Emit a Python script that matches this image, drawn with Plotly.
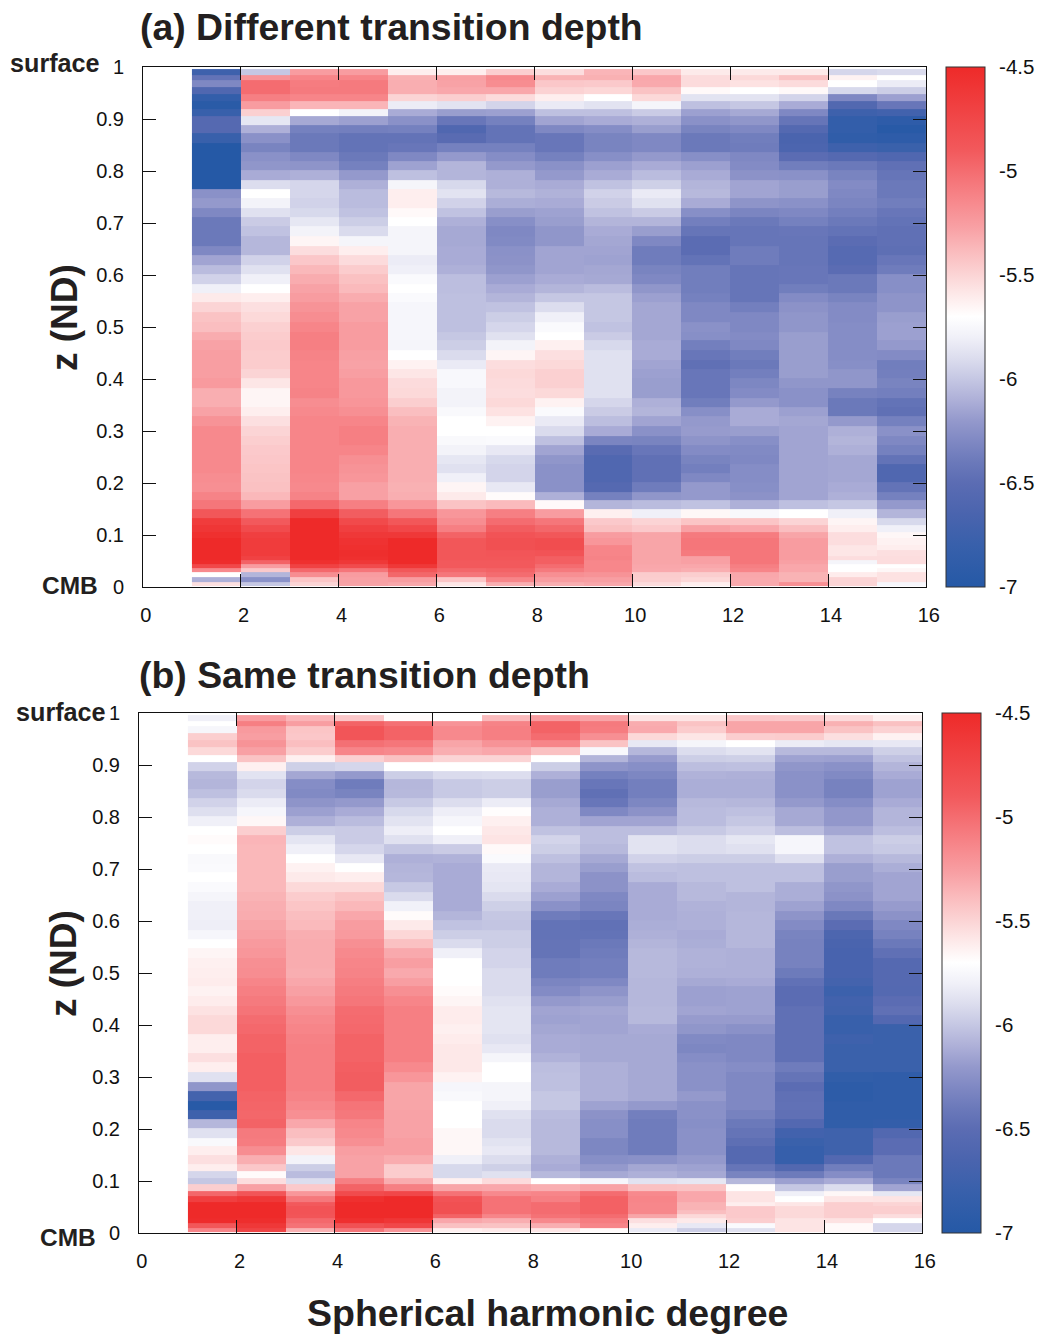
import numpy as np
import plotly.graph_objects as go

degree_edges = list(range(1, 17))
z_edges = [.996,.985,.974,.962,.948,.934,.919,.906,.889,.872,.854,.837,.820,.802,.783,.765,.747,.729,.712,.694,.675,.656,.638,.620,.602,.583,.565,.547,.529,.510,
           .491,.474,.456,.437,.419,.401,.382,.364,.346,.328,.309,.291,.273,.254,.237,.219,.201,.183,.167,.150,.133,.119,.106,.094,.081,.071,.060,.052,.045,.037,.028,.020,.010,.002]

# Panel (a): one list per degree, top row first
a1 = [-6.75,-6.45,-6.3,-6.6,-6.85,-6.95,-6.8,-6.55,-6.55,-6.8,-7,-7,-7,-7,-7,
      -6.25,-6.2,-6.3,-6.4,-6.4,-6.4,-6.3,-6.15,-6.05,-5.95,-5.8,-5.6,-5.5,-5.42,
      -5.4,-5.32,-5.28,-5.26,-5.26,-5.26,-5.24,-5.33,-5.33,-5.28,-5.2,-5.15,-5.15,-5.15,-5.15,-5.15,-5.17,-5.18,-5.12,-5.05,-4.88,
      -4.65,-4.6,-4.55,-4.5,-4.5,-4.5,-4.5,-4.52,-4.75,-5.15,-5.7,-6.1,-5.55]
a2 = [-6.0,-5.2,-5.0,-5.0,-5.1,-5.25,-5.48,-5.85,-6.1,-6.25,-6.33,-6.25,-6.22,-6.12,-5.9,
      -5.7,-5.78,-5.88,-5.98,-6.02,-6.07,-6.07,-5.95,-5.88,-5.8,-5.7,-5.62,-5.55,-5.52,
      -5.48,-5.46,-5.45,-5.46,-5.46,-5.5,-5.58,-5.65,-5.65,-5.62,-5.55,-5.5,-5.47,-5.45,-5.44,-5.43,-5.42,-5.41,-5.37,-5.25,-5.03,
      -4.9,-4.78,-4.68,-4.65,-4.65,-4.65,-4.7,-4.95,-5.25,-5.45,-6.08,-6.25,-6.0]
a3 = [-5.25,-5.13,-5.08,-5.07,-5.13,-5.36,-5.7,-6.13,-6.35,-6.4,-6.4,-6.3,-6.23,-6.1,-5.93,
      -5.93,-5.95,-5.92,-5.85,-5.78,-5.65,-5.54,-5.44,-5.37,-5.32,-5.28,-5.25,-5.2,-5.17,
      -5.13,-5.1,-5.1,-5.12,-5.13,-5.13,-5.13,-5.12,-5.17,-5.15,-5.13,-5.13,-5.13,-5.13,-5.13,-5.13,-5.14,-5.15,-5.12,-4.98,-4.68,
      -4.5,-4.5,-4.5,-4.5,-4.5,-4.5,-4.5,-4.55,-4.7,-4.98,-5.17,-5.43,-5.5]
a4 = [-5.25,-5.13,-5.07,-5.07,-5.13,-5.36,-5.78,-6.17,-6.36,-6.45,-6.45,-6.4,-6.35,-6.2,-6.1,
      -6.05,-6.05,-6.02,-5.97,-5.91,-5.77,-5.62,-5.53,-5.46,-5.41,-5.38,-5.32,-5.28,-5.28,
      -5.25,-5.25,-5.25,-5.27,-5.28,-5.26,-5.23,-5.23,-5.21,-5.18,-5.13,-5.1,-5.1,-5.13,-5.18,-5.2,-5.22,-5.27,-5.27,-5.1,-4.92,
      -4.77,-4.68,-4.62,-4.57,-4.55,-4.53,-4.55,-4.62,-4.78,-5.05,-5.25,-5.27,-5.28]
a5 = [-5.62,-5.34,-5.33,-5.33,-5.5,-5.82,-6.12,-6.25,-6.35,-6.45,-6.42,-6.3,-6.16,-6.03,-5.77,
      -5.62,-5.62,-5.67,-5.7,-5.77,-5.77,-5.77,-5.82,-5.8,-5.73,-5.7,-5.73,-5.76,-5.76,
      -5.76,-5.76,-5.77,-5.7,-5.64,-5.58,-5.53,-5.52,-5.47,-5.4,-5.35,-5.33,-5.33,-5.33,-5.33,-5.33,-5.33,-5.34,-5.33,-5.22,-5.05,
      -4.88,-4.75,-4.62,-4.5,-4.5,-4.5,-4.5,-4.5,-4.62,-4.88,-4.97,-5.25,-5.3]
a6 = [-5.62,-5.27,-5.28,-5.3,-5.47,-5.87,-6.18,-6.42,-6.6,-6.52,-6.35,-6.2,-6.08,-6.08,-5.92,
      -5.87,-5.95,-6.02,-6.1,-6.13,-6.13,-6.12,-6.12,-6.1,-6.04,-6.04,-6.03,-6.03,-6.03,
      -6.03,-6.0,-5.97,-5.91,-5.83,-5.75,-5.75,-5.78,-5.78,-5.74,-5.7,-5.7,-5.74,-5.78,-5.85,-5.88,-5.8,-5.65,-5.6,-5.42,-5.22,
      -5.17,-5.1,-4.95,-4.88,-4.88,-4.88,-4.88,-4.9,-4.9,-4.97,-5.05,-5.43,-5.58]
a7 = [-5.47,-5.15,-5.17,-5.3,-5.53,-5.94,-6.17,-6.35,-6.45,-6.45,-6.35,-6.27,-6.2,-6.1,-6.1,
      -6.06,-6.11,-6.18,-6.26,-6.3,-6.29,-6.25,-6.24,-6.22,-6.17,-6.12,-6.08,-6.02,-5.97,
      -5.93,-5.88,-5.78,-5.65,-5.54,-5.52,-5.53,-5.54,-5.52,-5.56,-5.64,-5.7,-5.73,-5.84,-5.92,-5.94,-5.94,-5.84,-5.68,-5.38,-5.1,
      -5.0,-4.92,-4.85,-4.82,-4.82,-4.87,-4.88,-4.9,-4.9,-4.95,-5.0,-5.13,-5.33]
a8 = [-5.54,-5.35,-5.44,-5.49,-5.62,-5.83,-6.03,-6.15,-6.3,-6.42,-6.42,-6.35,-6.25,-6.2,-6.12,
      -6.09,-6.12,-6.16,-6.18,-6.22,-6.22,-6.15,-6.15,-6.15,-6.12,-6.08,-6.0,-5.9,-5.8,
      -5.73,-5.7,-5.63,-5.55,-5.52,-5.48,-5.48,-5.52,-5.64,-5.73,-5.83,-5.91,-6.03,-6.15,-6.22,-6.25,-6.25,-6.25,-6.1,-5.67,-5.25,
      -5.05,-4.97,-4.88,-4.8,-4.8,-4.85,-4.93,-4.93,-5.0,-5.07,-5.18,-5.25,-5.33]
a9 = [-5.36,-5.34,-5.45,-5.51,-5.7,-5.87,-6.03,-6.12,-6.27,-6.33,-6.33,-6.26,-6.17,-6.12,-6.02,
      -5.95,-5.98,-6.02,-6.08,-6.12,-6.14,-6.15,-6.16,-6.14,-6.13,-6.05,-6.0,-6.0,-6.0,
      -6.02,-5.98,-5.92,-5.88,-5.88,-5.88,-5.88,-5.88,-5.93,-5.98,-6.04,-6.12,-6.32,-6.52,-6.6,-6.6,-6.6,-6.55,-6.35,-6.08,-5.63,
      -5.45,-5.41,-5.25,-5.22,-5.13,-5.13,-5.12,-5.14,-5.14,-5.14,-5.2,-5.26,-5.3]
a10 = [-5.44,-5.3,-5.31,-5.42,-5.52,-5.77,-5.98,-6.1,-6.18,-6.3,-6.3,-6.2,-6.12,-6.05,-5.96,
       -5.83,-5.88,-5.98,-6.08,-6.18,-6.3,-6.38,-6.38,-6.33,-6.3,-6.22,-6.17,-6.14,-6.14,
       -6.14,-6.14,-6.12,-6.12,-6.15,-6.17,-6.18,-6.18,-6.1,-6.08,-6.15,-6.25,-6.33,-6.42,-6.47,-6.47,-6.47,-6.38,-6.22,-6.05,-5.8,
       -5.5,-5.45,-5.29,-5.29,-5.29,-5.29,-5.29,-5.29,-5.3,-5.31,-5.46,-5.47,-5.53]
a11 = [-5.6,-5.53,-5.53,-5.67,-5.87,-6.03,-6.17,-6.25,-6.33,-6.4,-6.4,-6.26,-6.17,-6.12,-6.08,
       -6.06,-6.12,-6.26,-6.36,-6.43,-6.5,-6.5,-6.45,-6.37,-6.37,-6.37,-6.35,-6.3,-6.3,
       -6.25,-6.26,-6.36,-6.42,-6.47,-6.42,-6.42,-6.42,-6.37,-6.26,-6.2,-6.19,-6.23,-6.28,-6.33,-6.36,-6.3,-6.2,-6.2,-6.02,-5.66,
       -5.43,-5.27,-5.07,-5.05,-5.05,-5.07,-5.27,-5.27,-5.3,-5.33,-5.47,-5.51,-5.62]
a12 = [-5.6,-5.52,-5.56,-5.7,-5.87,-6.0,-6.13,-6.22,-6.3,-6.37,-6.38,-6.3,-6.28,-6.24,-6.15,
       -6.15,-6.23,-6.32,-6.4,-6.43,-6.43,-6.38,-6.38,-6.43,-6.43,-6.43,-6.43,-6.36,-6.3,
       -6.3,-6.28,-6.3,-6.37,-6.4,-6.36,-6.31,-6.28,-6.2,-6.12,-6.12,-6.18,-6.26,-6.29,-6.3,-6.27,-6.27,-6.26,-6.24,-6.1,-5.75,
       -5.43,-5.3,-5.08,-5.05,-5.05,-5.05,-5.05,-5.05,-5.1,-5.13,-5.3,-5.31,-5.31]
a13 = [-5.6,-5.42,-5.53,-5.67,-5.94,-6.12,-6.3,-6.43,-6.56,-6.65,-6.63,-6.5,-6.37,-6.25,-6.18,
       -6.18,-6.25,-6.3,-6.35,-6.42,-6.43,-6.43,-6.43,-6.42,-6.42,-6.37,-6.28,-6.24,-6.22,
       -6.22,-6.18,-6.18,-6.18,-6.18,-6.18,-6.22,-6.25,-6.25,-6.17,-6.14,-6.15,-6.15,-6.15,-6.15,-6.15,-6.15,-6.15,-6.15,-6.03,-5.7,
       -5.5,-5.4,-5.29,-5.25,-5.25,-5.25,-5.25,-5.27,-5.3,-5.3,-5.35,-5.35,-5.18]
a14 = [-5.93,-5.64,-5.7,-5.92,-6.3,-6.58,-6.75,-6.85,-6.85,-6.88,-6.75,-6.55,-6.4,-6.33,-6.28,
       -6.3,-6.32,-6.36,-6.4,-6.45,-6.5,-6.54,-6.54,-6.5,-6.4,-6.4,-6.33,-6.28,-6.28,
       -6.27,-6.27,-6.27,-6.27,-6.26,-6.22,-6.22,-6.34,-6.4,-6.4,-6.2,-6.1,-6.08,-6.1,-6.14,-6.14,-6.14,-6.12,-6.1,-6.0,-5.8,
       -5.65,-5.62,-5.54,-5.54,-5.58,-5.58,-5.54,-5.77,-5.7,-5.7,-5.61,-5.5,-5.5]
a15 = [-5.91,-5.7,-5.82,-5.97,-6.17,-6.42,-6.72,-6.9,-6.97,-6.9,-6.78,-6.6,-6.47,-6.43,-6.4,
       -6.4,-6.37,-6.42,-6.45,-6.47,-6.47,-6.48,-6.42,-6.38,-6.26,-6.26,-6.23,-6.23,-6.18,
       -6.17,-6.17,-6.2,-6.28,-6.37,-6.36,-6.33,-6.36,-6.45,-6.47,-6.35,-6.25,-6.3,-6.35,-6.45,-6.6,-6.6,-6.45,-6.35,-6.2,-6.08,
       -5.92,-5.8,-5.66,-5.64,-5.62,-5.55,-5.54,-5.54,-5.7,-5.66,-5.56,-5.56,-5.76]

# Panel (b)
b1 = [-5.8,-5.7,-5.76,-5.47,-5.42,-5.52,-5.7,-5.95,-6.06,-6.08,-6.03,-5.95,-5.89,-5.8,-5.7,
      -5.68,-5.7,-5.74,-5.73,-5.7,-5.73,-5.77,-5.8,-5.8,-5.81,-5.76,-5.7,-5.65,-5.63,
      -5.62,-5.61,-5.64,-5.61,-5.56,-5.52,-5.52,-5.62,-5.62,-5.55,-5.62,-5.88,-6.22,-6.7,-6.97,-6.75,-6.07,-5.88,-5.74,-5.62,-5.55,
      -5.62,-5.93,-6.0,-5.47,-4.97,-4.68,-4.5,-4.5,-4.5,-4.5,-4.52,-4.88,-5.13]
b2 = [-5.25,-5.1,-5.24,-5.26,-5.2,-5.27,-5.42,-5.63,-5.87,-5.94,-5.91,-5.82,-5.76,-5.66,-5.47,
      -5.36,-5.37,-5.37,-5.37,-5.37,-5.37,-5.35,-5.33,-5.32,-5.29,-5.27,-5.24,-5.22,-5.18,
      -5.17,-5.13,-5.1,-5.07,-5.04,-5.0,-4.98,-4.95,-4.95,-4.93,-4.93,-4.93,-4.93,-4.95,-4.96,-4.97,-4.95,-5.07,-5.08,-5.17,-5.33,
      -5.44,-5.68,-5.54,-5.27,-4.87,-4.62,-4.5,-4.5,-4.5,-4.5,-4.53,-4.62,-4.72]
b3 = [-5.36,-5.26,-5.43,-5.44,-5.4,-5.46,-5.63,-5.96,-6.14,-6.27,-6.29,-6.23,-6.17,-6.1,-5.97,
      -5.86,-5.8,-5.7,-5.64,-5.6,-5.52,-5.46,-5.43,-5.4,-5.38,-5.33,-5.32,-5.32,-5.32,
      -5.33,-5.3,-5.27,-5.23,-5.18,-5.15,-5.13,-5.11,-5.1,-5.1,-5.1,-5.1,-5.1,-5.12,-5.15,-5.18,-5.3,-5.4,-5.45,-5.58,-5.78,
      -5.97,-6.05,-5.9,-5.45,-5.22,-5.06,-4.9,-4.85,-4.85,-4.87,-4.98,-5.03,-5.34]
b4 = [-5.44,-4.95,-4.87,-4.87,-5.02,-5.13,-5.48,-5.93,-6.2,-6.38,-6.33,-6.2,-6.12,-6.05,-5.98,
      -5.98,-5.93,-5.84,-5.7,-5.62,-5.52,-5.42,-5.37,-5.3,-5.25,-5.24,-5.18,-5.15,-5.13,
      -5.12,-5.09,-5.07,-5.05,-5.0,-4.99,-4.98,-4.95,-4.95,-4.95,-4.93,-4.92,-4.92,-4.98,-5.04,-5.06,-5.13,-5.15,-5.18,-5.26,-5.28,
      -5.28,-5.28,-5.1,-4.95,-4.78,-4.55,-4.5,-4.5,-4.5,-4.5,-4.55,-4.83,-5.05]
b5 = [-5.68,-5.02,-4.95,-4.95,-5.05,-5.15,-5.41,-5.7,-5.97,-6.07,-6.06,-5.99,-5.92,-5.87,-5.81,
      -5.88,-6.01,-6.1,-6.08,-6.07,-5.99,-5.91,-5.79,-5.68,-5.6,-5.51,-5.41,-5.31,-5.26,
      -5.31,-5.26,-5.18,-5.13,-5.1,-5.1,-5.1,-5.1,-5.1,-5.1,-5.15,-5.22,-5.29,-5.29,-5.29,-5.28,-5.28,-5.28,-5.26,-5.26,-5.32,
      -5.46,-5.46,-5.32,-5.1,-4.75,-4.5,-4.5,-4.5,-4.5,-4.5,-4.6,-4.75,-5.22]
b6 = [-5.7,-5.2,-5.15,-5.15,-5.29,-5.33,-5.5,-5.7,-5.91,-5.99,-5.99,-5.9,-5.81,-5.76,-5.7,
      -5.8,-5.98,-6.09,-6.12,-6.12,-6.12,-6.12,-6.12,-6.08,-6.02,-5.97,-5.91,-5.8,-5.7,
      -5.7,-5.7,-5.68,-5.65,-5.61,-5.61,-5.63,-5.61,-5.59,-5.59,-5.59,-5.64,-5.76,-5.74,-5.7,-5.7,-5.7,-5.66,-5.66,-5.66,-5.8,
      -5.92,-5.92,-5.63,-5.29,-5.03,-4.85,-4.82,-4.82,-4.82,-4.95,-5.3,-5.41,-5.63]
b7 = [-5.38,-5.12,-5.1,-5.1,-5.2,-5.3,-5.5,-5.7,-5.9,-5.97,-5.97,-5.82,-5.69,-5.63,-5.59,
      -5.57,-5.67,-5.73,-5.83,-5.84,-5.86,-5.91,-5.96,-6.0,-6.01,-5.97,-5.97,-5.94,-5.94,
      -5.91,-5.91,-5.91,-5.88,-5.86,-5.86,-5.86,-5.88,-5.84,-5.77,-5.7,-5.7,-5.77,-5.77,-5.8,-5.88,-5.91,-5.91,-5.87,-5.84,-5.9,
      -5.96,-5.88,-5.53,-5.3,-5.15,-5.03,-5.03,-5.03,-5.03,-5.13,-5.33,-5.42,-5.6]
b8 = [-5.25,-4.95,-4.95,-5.0,-5.13,-5.41,-5.7,-5.97,-6.1,-6.18,-6.18,-6.13,-6.1,-6.1,-6.02,
      -5.94,-5.97,-6.03,-6.08,-6.08,-6.12,-6.17,-6.25,-6.38,-6.45,-6.45,-6.44,-6.44,-6.38,
      -6.38,-6.32,-6.28,-6.2,-6.15,-6.16,-6.14,-6.12,-6.12,-6.09,-6.04,-6.03,-6.03,-6.0,-6.0,-6.05,-6.06,-6.06,-6.06,-6.06,-6.1,
      -6.12,-6.06,-5.7,-5.33,-5.13,-5.1,-5.0,-5.0,-5.0,-5.03,-5.15,-5.33,-5.58]
b9 = [-5.29,-5.07,-5.08,-5.18,-5.42,-5.75,-6.08,-6.23,-6.35,-6.42,-6.47,-6.42,-6.3,-6.15,-6.04,
      -6.04,-6.06,-6.13,-6.18,-6.24,-6.24,-6.3,-6.32,-6.42,-6.46,-6.45,-6.4,-6.38,-6.36,
      -6.36,-6.3,-6.23,-6.18,-6.14,-6.15,-6.15,-6.13,-6.13,-6.13,-6.1,-6.1,-6.1,-6.1,-6.16,-6.24,-6.26,-6.26,-6.31,-6.31,-6.26,
      -6.2,-6.13,-5.76,-5.28,-5.0,-4.94,-4.94,-4.94,-4.94,-5.0,-5.08,-5.13,-5.68]
b10 = [-5.58,-5.32,-5.31,-5.52,-5.84,-6.07,-6.19,-6.26,-6.31,-6.36,-6.36,-6.31,-6.24,-6.15,-6.04,
       -5.87,-5.87,-5.95,-6.02,-6.05,-6.12,-6.12,-6.12,-6.12,-6.11,-6.1,-6.08,-6.06,-6.06,
       -6.06,-6.07,-6.07,-6.07,-6.06,-6.06,-6.12,-6.13,-6.13,-6.13,-6.13,-6.13,-6.13,-6.13,-6.2,-6.36,-6.38,-6.38,-6.38,-6.38,-6.25,
       -6.14,-6.1,-5.87,-5.41,-5.15,-5.13,-5.14,-5.14,-5.14,-5.29,-5.55,-5.62,-5.83]
b11 = [-5.58,-5.42,-5.46,-5.58,-5.77,-5.9,-5.97,-6.04,-6.09,-6.11,-6.11,-6.06,-6.05,-6.05,-5.99,
       -5.9,-5.9,-5.97,-6.03,-6.03,-6.06,-6.06,-6.09,-6.1,-6.1,-6.12,-6.11,-6.09,-6.09,
       -6.1,-6.13,-6.17,-6.17,-6.15,-6.19,-6.22,-6.29,-6.31,-6.27,-6.25,-6.25,-6.25,-6.2,-6.25,-6.25,-6.26,-6.25,-6.25,-6.25,-6.2,
       -6.16,-6.13,-5.85,-5.42,-5.3,-5.3,-5.35,-5.35,-5.4,-5.52,-5.6,-5.84,-5.97]
b12 = [-5.44,-5.29,-5.29,-5.47,-5.7,-5.87,-5.96,-6.03,-6.1,-6.11,-6.11,-6.07,-6.03,-6.0,-5.95,
       -5.85,-5.88,-5.97,-6.03,-6.03,-6.03,-6.08,-6.08,-6.07,-6.07,-6.07,-6.07,-6.1,-6.1,
       -6.1,-6.12,-6.16,-6.16,-6.16,-6.19,-6.25,-6.3,-6.3,-6.3,-6.27,-6.3,-6.3,-6.3,-6.3,-6.34,-6.4,-6.44,-6.48,-6.55,-6.55,
       -6.43,-6.33,-6.07,-5.69,-5.57,-5.57,-5.62,-5.45,-5.45,-5.45,-5.47,-5.73,-5.88]
b13 = [-5.45,-5.29,-5.29,-5.46,-5.82,-6.06,-6.16,-6.22,-6.25,-6.25,-6.25,-6.2,-6.13,-6.13,-6.04,
       -5.76,-5.76,-5.89,-6.03,-6.03,-6.11,-6.11,-6.16,-6.23,-6.28,-6.33,-6.34,-6.34,-6.34,
       -6.39,-6.46,-6.5,-6.5,-6.47,-6.47,-6.47,-6.47,-6.47,-6.47,-6.38,-6.44,-6.5,-6.47,-6.46,-6.47,-6.57,-6.72,-6.78,-6.82,-6.82,
       -6.58,-6.39,-6.17,-6.0,-5.8,-5.7,-5.58,-5.52,-5.52,-5.52,-5.57,-5.57,-5.57]
b14 = [-5.53,-5.34,-5.42,-5.55,-5.85,-6.06,-6.17,-6.25,-6.29,-6.34,-6.34,-6.27,-6.21,-6.21,-6.14,
       -6.02,-6.02,-6.1,-6.18,-6.18,-6.22,-6.24,-6.3,-6.41,-6.5,-6.62,-6.65,-6.67,-6.67,
       -6.67,-6.7,-6.77,-6.72,-6.73,-6.8,-6.8,-6.75,-6.78,-6.78,-6.78,-6.87,-6.92,-6.92,-6.88,-6.88,-6.87,-6.74,-6.74,-6.74,-6.57,
       -6.37,-6.27,-6.12,-5.9,-5.66,-5.58,-5.47,-5.47,-5.47,-5.47,-5.56,-5.67,-5.67]
b15 = [-5.63,-5.41,-5.49,-5.64,-5.84,-5.96,-6.02,-6.08,-6.12,-6.16,-6.16,-6.12,-6.08,-6.08,-6.04,
       -5.97,-5.99,-6.06,-6.11,-6.15,-6.15,-6.15,-6.19,-6.24,-6.3,-6.34,-6.4,-6.47,-6.55,
       -6.55,-6.55,-6.56,-6.5,-6.47,-6.57,-6.78,-6.78,-6.78,-6.78,-6.78,-6.88,-6.88,-6.88,-6.88,-6.88,-6.85,-6.58,-6.5,-6.5,-6.4,
       -6.4,-6.4,-6.33,-6.15,-5.85,-5.57,-5.5,-5.47,-5.47,-5.54,-5.7,-5.93,-5.93]

panel_a = [a1, a2, a3, a4, a5, a6, a7, a8, a9, a10, a11, a12, a13, a14, a15]
panel_b = [b1, b2, b3, b4, b5, b6, b7, b8, b9, b10, b11, b12, b13, b14, b15]

x_ticks = list(range(0, 17, 2))
y_ticks = [0, 0.1, 0.2, 0.3, 0.4, 0.5, 0.6, 0.7, 0.8, 0.9, 1]
y_labels = ["0", "0.1", "0.2", "0.3", "0.4", "0.5", "0.6", "0.7", "0.8", "0.9", "1"]
cb_ticks = [-4.5, -5, -5.5, -6, -6.5, -7]
cb_labels = ["-4.5", "-5", "-5.5", "-6", "-6.5", "-7"]

W, H = 1042, 1334
FONT = "Liberation Sans"
INK = "#231f20"
colorscale = [[0, "#2559A6"], [.08, "#3860AB"], [.14, "#4A64AE"], [.2, "#5B6CB3"], [.24, "#6B79BA"], [.28, "#7F88C3"],
              [.32, "#9499CC"], [.36, "#AEB0D8"], [.40, "#C5C7E3"], [.44, "#DCDDEE"], [.48, "#F0F0F8"], [.52, "#FFFFFF"],
              [.568, "#FDE6E6"], [.608, "#FBD0D1"], [.648, "#FABABC"], [.692, "#F8A0A4"], [.74, "#F7898D"], [.78, "#F5767A"],
              [.84, "#F2595C"], [1, "#EE2A29"]]


def px(x):
    return x / W


def py(y):
    return 1 - y / H


def heat(columns, xa, ya, cb_left, top, bottom):
    grid = np.column_stack(columns)[::-1]
    return go.Heatmap(
        x=degree_edges, y=z_edges[::-1], z=grid, xaxis=xa, yaxis=ya,
        zmin=-7, zmax=-4.5, colorscale=colorscale, hoverinfo="skip",
        colorbar=dict(
            x=px(cb_left), xanchor="left", xref="paper", xpad=0, ypad=0,
            y=py(bottom), yanchor="bottom", yref="paper",
            len=(bottom - top) / H, lenmode="fraction",
            thickness=39, thicknessmode="pixels",
            tickmode="array", tickvals=cb_ticks, ticktext=cb_labels,
            ticks="outside", ticklen=10, tickcolor="rgba(0,0,0,0)", tickwidth=1,
            outlinecolor="#333", outlinewidth=1,
            ticklabelposition="outside", tickfont=dict(family=FONT, size=20.5, color="#111"),
        ),
    )


def x_axis(left, right, anchor):
    return dict(domain=[px(left), px(right)], range=[0, 16], anchor=anchor, tickmode="array",
                tickvals=x_ticks, ticktext=["\u00a0" + str(t) for t in x_ticks], ticks="inside", ticklen=13,
                tickcolor="#111", tickwidth=1, showline=True, linecolor="#111", linewidth=1, mirror="ticks",
                showgrid=False, zeroline=False, ticklabelstandoff=10,
                tickfont=dict(family=FONT, size=20, color="#111"))


def y_axis(top, bottom, anchor):
    return dict(domain=[py(bottom), py(top)], range=[0, 1], anchor=anchor, tickmode="array",
                tickvals=y_ticks, ticktext=y_labels, ticks="inside", ticklen=13,
                tickcolor="#111", tickwidth=1, showline=True, linecolor="#111", linewidth=1, mirror="ticks",
                showgrid=False, zeroline=False, ticklabelstandoff=14,
                tickfont=dict(family=FONT, size=20, color="#111"))


def text(s, x, y, size, xanchor="center", angle=0):
    return dict(text="<b>" + s + "</b>", x=px(x), y=py(y), xref="paper", yref="paper", showarrow=False,
                xanchor=xanchor, yanchor="middle", textangle=angle, font=dict(family=FONT, size=size, color=INK))


def cb_ticks_shapes(cb_left, top, bottom):
    out = []
    for v in cb_ticks[1:-1]:
        y = top + (-4.5 - v) / 2.5 * (bottom - top)
        for x0, x1 in ((cb_left, cb_left + 10), (cb_left + 29, cb_left + 39)):
            out.append(dict(type="line", xref="paper", yref="paper", x0=px(x0), x1=px(x1),
                            y0=py(y), y1=py(y), line=dict(color="#111", width=1)))
    return out


fig = go.Figure([
    heat(panel_a, "x", "y", 946, 67, 587),
    heat(panel_b, "x2", "y2", 942, 713, 1233),
])
fig.update_layout(
    width=W, height=H, margin=dict(l=0, r=0, t=0, b=0, autoexpand=False), autosize=False,
    paper_bgcolor="white", plot_bgcolor="white", showlegend=False,
    xaxis=x_axis(143, 926, "y"), yaxis=y_axis(67, 587, "x"),
    xaxis2=x_axis(139, 922, "y2"), yaxis2=y_axis(713, 1233, "x2"),
    shapes=cb_ticks_shapes(946, 67, 587) + cb_ticks_shapes(942, 713, 1233),
    annotations=[
        text("(a) Different transition depth", 138, 27, 37.4, "left"),
        text("(b) Same transition depth", 136.5, 675, 37.4, "left"),
        text("surface", 101.5, 63, 25.2, "right"),
        text("CMB", 100, 585.5, 24.5, "right"),
        text("surface", 107.5, 712, 25.2, "right"),
        text("CMB", 98, 1237.5, 24.5, "right"),
        text("z (ND)", 65, 318, 37, angle=-90),
        text("z (ND)", 63, 964, 37, angle=-90),
        text("Spherical harmonic degree", 547, 1313, 37.5),
    ],
)
fig.write_html("out.html", config={"displayModeBar": False},
               post_script="document.body.style.margin='0';")
